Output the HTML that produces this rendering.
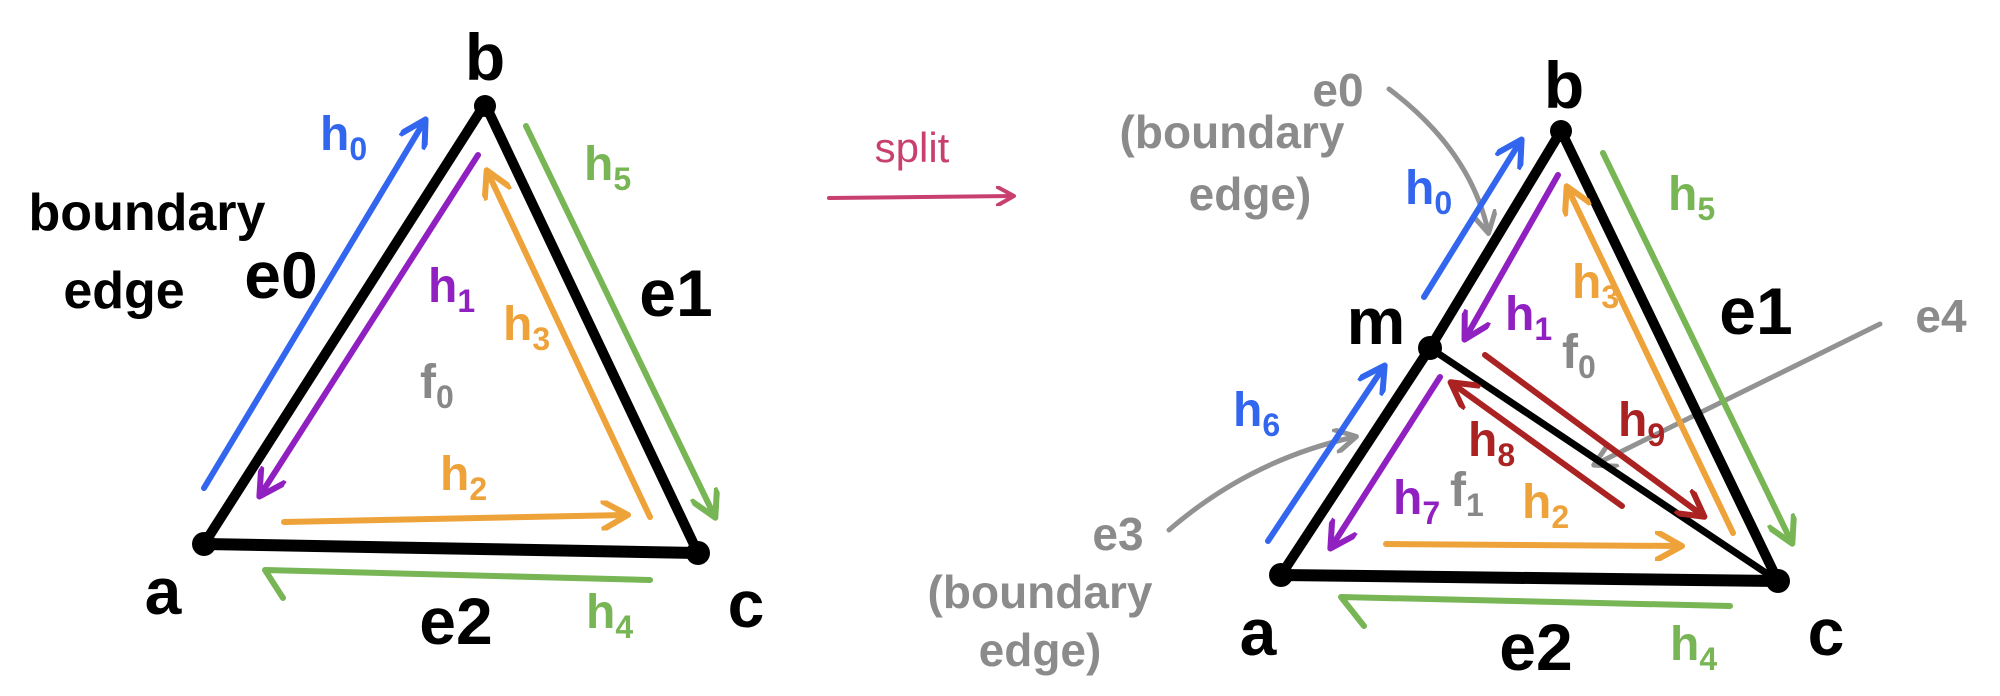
<!DOCTYPE html>
<html><head><meta charset="utf-8"><style>
html,body{margin:0;padding:0;background:#fff}
svg{display:block}
text{font-family:"Liberation Sans",sans-serif}
.k{fill:#000;font-size:66px;font-weight:bold}
.g{fill:#777;font-size:46px;font-weight:bold;opacity:0.85}
.h{font-size:48px;font-weight:bold}
.s{font-size:32px}
</style></head><body>
<svg width="2000" height="696" viewBox="0 0 2000 696" xmlns="http://www.w3.org/2000/svg" fill="none" stroke-linecap="round" stroke-linejoin="round">
<defs>
<marker id="ab" viewBox="0 0 10 10" refX="8" refY="5" markerWidth="5" markerHeight="5" orient="auto"><path d="M0,0 L9,5 L0,10" stroke="#3366ee" stroke-width="2" fill="none"/></marker>
<marker id="ap" viewBox="0 0 10 10" refX="8" refY="5" markerWidth="5" markerHeight="5" orient="auto"><path d="M0,0 L9,5 L0,10" stroke="#9020c0" stroke-width="2" fill="none"/></marker>
<marker id="ao" viewBox="0 0 10 10" refX="8" refY="5" markerWidth="5" markerHeight="5" orient="auto"><path d="M0,0 L9,5 L0,10" stroke="#eea23a" stroke-width="2" fill="none"/></marker>
<marker id="ag" viewBox="0 0 10 10" refX="8" refY="5" markerWidth="5" markerHeight="5" orient="auto"><path d="M0,0 L9,5 L0,10" stroke="#77b555" stroke-width="2" fill="none"/></marker>
<marker id="ar" viewBox="0 0 10 10" refX="8" refY="5" markerWidth="5" markerHeight="5" orient="auto"><path d="M0,0 L9,5 L0,10" stroke="#aa2222" stroke-width="2" fill="none"/></marker>
<marker id="ak" viewBox="0 0 10 10" refX="8" refY="5" markerWidth="5" markerHeight="5" orient="auto"><path d="M0,0 L9,5 L0,10" stroke="#777" stroke-width="2" fill="none"/></marker>
<marker id="apk" viewBox="0 0 10 10" refX="8" refY="5" markerWidth="5" markerHeight="5" orient="auto"><path d="M0,0 L9,5 L0,10" stroke="#c84070" stroke-width="2" fill="none"/></marker>
</defs>

<g>
<path d="M204,544 L485,104" stroke="#000" stroke-width="10"/>
<path d="M485,104 L698,553" stroke="#000" stroke-width="10"/>
<path d="M204,544 L698,553" stroke="#000" stroke-width="12"/>
<circle cx="485" cy="106" r="11" fill="#000"/>
<circle cx="204" cy="544" r="12" fill="#000"/>
<circle cx="698" cy="553" r="12" fill="#000"/>
<path d="M204,488 L424,122" stroke="#3366ee" stroke-width="6" marker-end="url(#ab)"/>
<path d="M478,155 L261,494" stroke="#9020c0" stroke-width="6" marker-end="url(#ap)"/>
<path d="M650,517 L488,173" stroke="#eea23a" stroke-width="6" marker-end="url(#ao)"/>
<path d="M284,522 L625,515" stroke="#eea23a" stroke-width="6" marker-end="url(#ao)"/>
<path d="M526,126 L714,515" stroke="#77b555" stroke-width="6" marker-end="url(#ag)"/>
<path d="M650,580 L265,570 L283,598" stroke="#77b555" stroke-width="6"/>
<text class="k" x="485" y="80" text-anchor="middle">b</text>
<text class="k" x="163" y="614" text-anchor="middle">a</text>
<text class="k" x="746" y="627" text-anchor="middle">c</text>
<text class="k" x="281" y="298" text-anchor="middle">e0</text>
<text class="k" x="676" y="316" text-anchor="middle">e1</text>
<text class="k" x="456" y="644" text-anchor="middle">e2</text>
<text x="147" y="230" text-anchor="middle" fill="#000" font-size="52" font-weight="bold">boundary</text>
<text x="124" y="308" text-anchor="middle" fill="#000" font-size="52" font-weight="bold">edge</text>
<text class="h" x="320" y="150" fill="#3366ee">h<tspan class="s" dy="10">0</tspan></text>
<text class="h" x="428" y="302" fill="#9020c0">h<tspan class="s" dy="10">1</tspan></text>
<text class="h" x="503" y="340" fill="#eea23a">h<tspan class="s" dy="10">3</tspan></text>
<text class="h" x="440" y="490" fill="#eea23a">h<tspan class="s" dy="10">2</tspan></text>
<text class="h" x="584" y="180" fill="#77b555">h<tspan class="s" dy="10">5</tspan></text>
<text class="h" x="586" y="628" fill="#77b555">h<tspan class="s" dy="10">4</tspan></text>
<text class="h" x="420" y="398" fill="#888">f<tspan class="s" dy="10">0</tspan></text>
</g>

<text x="912" y="162" text-anchor="middle" fill="#c84070" font-size="42">split</text>
<path d="M829,198 L1012,196" stroke="#c84070" stroke-width="4" marker-end="url(#apk)"/>

<g>
<path d="M1389,89 Q1470,150 1488,231" stroke="#777" stroke-width="5" opacity="0.8" marker-end="url(#ak)"/>
<path d="M1880,324 L1596,464" stroke="#777" stroke-width="5" opacity="0.8" marker-end="url(#ak)"/>
<path d="M1169,530 Q1250,460 1354,437" stroke="#777" stroke-width="5" opacity="0.8" marker-end="url(#ak)"/>
<path d="M1430,348 L1561,131" stroke="#000" stroke-width="10"/>
<path d="M1281,575 L1430,348" stroke="#000" stroke-width="10"/>
<path d="M1561,131 L1778,581" stroke="#000" stroke-width="10"/>
<path d="M1430,348 L1778,581" stroke="#000" stroke-width="7"/>
<path d="M1281,575 L1778,581" stroke="#000" stroke-width="12"/>
<circle cx="1561" cy="131" r="11" fill="#000"/>
<circle cx="1430" cy="348" r="12" fill="#000"/>
<circle cx="1281" cy="575" r="12" fill="#000"/>
<circle cx="1778" cy="581" r="12" fill="#000"/>
<path d="M1424,297 L1520,142" stroke="#3366ee" stroke-width="6" marker-end="url(#ab)"/>
<path d="M1268,541 L1383,368" stroke="#3366ee" stroke-width="6" marker-end="url(#ab)"/>
<path d="M1558,175 L1466,337" stroke="#9020c0" stroke-width="6" marker-end="url(#ap)"/>
<path d="M1440,377 L1332,546" stroke="#9020c0" stroke-width="6" marker-end="url(#ap)"/>
<path d="M1733,533 L1568,189" stroke="#eea23a" stroke-width="6" marker-end="url(#ao)"/>
<path d="M1386,544 L1679,546" stroke="#eea23a" stroke-width="6" marker-end="url(#ao)"/>
<path d="M1485,355 L1702,515" stroke="#aa2222" stroke-width="6" marker-end="url(#ar)"/>
<path d="M1622,506 L1453,384" stroke="#aa2222" stroke-width="6" marker-end="url(#ar)"/>
<path d="M1603,153 L1791,541" stroke="#77b555" stroke-width="6" marker-end="url(#ag)"/>
<path d="M1730,606 L1341,597 L1364,626" stroke="#77b555" stroke-width="6"/>
<text class="k" x="1564" y="108" text-anchor="middle">b</text>
<text class="k" x="1376" y="344" text-anchor="middle">m</text>
<text class="k" x="1258" y="655" text-anchor="middle">a</text>
<text class="k" x="1826" y="655" text-anchor="middle">c</text>
<text class="k" x="1756" y="334" text-anchor="middle">e1</text>
<text class="k" x="1536" y="670" text-anchor="middle">e2</text>
<text class="g" x="1941" y="332" text-anchor="middle" font-size="60">e4</text>
<text class="g" x="1338" y="106" text-anchor="middle" font-size="60">e0</text>
<text class="g" x="1232" y="148" text-anchor="middle">(boundary</text>
<text class="g" x="1250" y="210" text-anchor="middle">edge)</text>
<text class="g" x="1118" y="550" text-anchor="middle" font-size="60">e3</text>
<text class="g" x="1040" y="608" text-anchor="middle">(boundary</text>
<text class="g" x="1040" y="666" text-anchor="middle">edge)</text>
<text class="h" x="1405" y="204" fill="#3366ee">h<tspan class="s" dy="10">0</tspan></text>
<text class="h" x="1233" y="426" fill="#3366ee">h<tspan class="s" dy="10">6</tspan></text>
<text class="h" x="1505" y="330" fill="#9020c0">h<tspan class="s" dy="10">1</tspan></text>
<text class="h" x="1393" y="514" fill="#9020c0">h<tspan class="s" dy="10">7</tspan></text>
<text class="h" x="1572" y="298" fill="#eea23a">h<tspan class="s" dy="10">3</tspan></text>
<text class="h" x="1522" y="518" fill="#eea23a">h<tspan class="s" dy="10">2</tspan></text>
<text class="h" x="1618" y="436" fill="#aa2222">h<tspan class="s" dy="10">9</tspan></text>
<text class="h" x="1468" y="456" fill="#aa2222">h<tspan class="s" dy="10">8</tspan></text>
<text class="h" x="1668" y="210" fill="#77b555">h<tspan class="s" dy="10">5</tspan></text>
<text class="h" x="1670" y="660" fill="#77b555">h<tspan class="s" dy="10">4</tspan></text>
<text class="h" x="1562" y="368" fill="#888">f<tspan class="s" dy="10">0</tspan></text>
<text class="h" x="1450" y="506" fill="#888">f<tspan class="s" dy="10">1</tspan></text>
</g>
</svg>
</body></html>
